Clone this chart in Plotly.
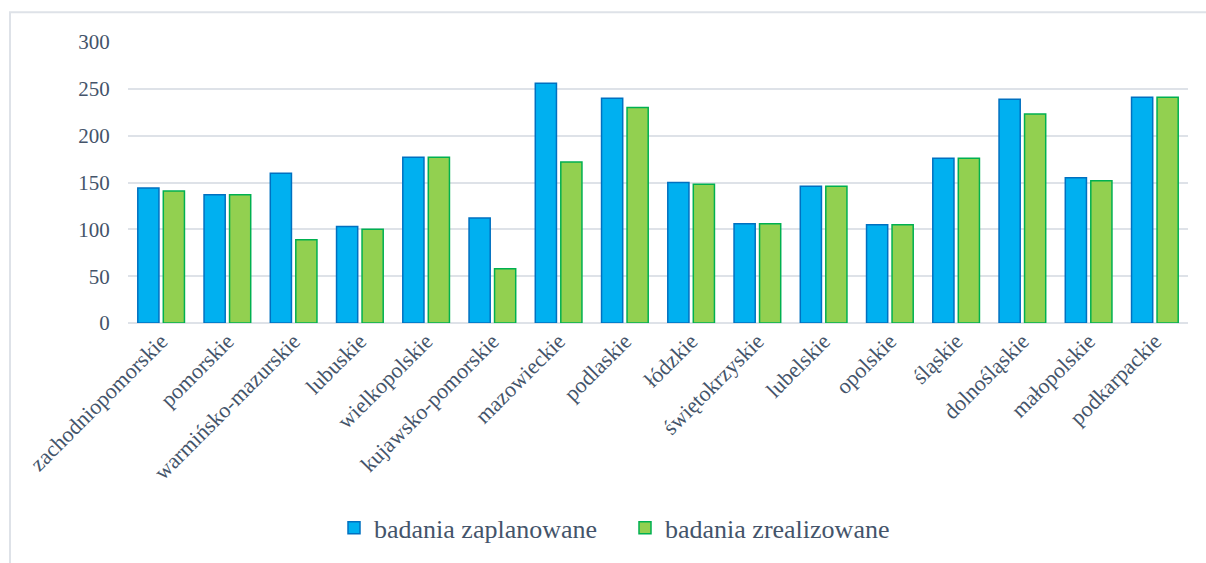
import plotly.graph_objects as go

regions = [
    "zachodniopomorskie", "pomorskie", "warmińsko-mazurskie", "lubuskie",
    "wielkopolskie", "kujawsko-pomorskie", "mazowieckie", "podlaskie",
    "łódzkie", "świętokrzyskie", "lubelskie", "opolskie", "śląskie",
    "dolnośląskie", "małopolskie", "podkarpackie",
]
planned = [144, 137, 160, 103, 177, 112, 256, 240, 150, 106, 146, 105, 176, 239, 155, 241]
completed = [141, 137, 89, 100, 177, 58, 172, 230, 148, 106, 146, 105, 176, 223, 152, 241]
y_ticks = [0, 50, 100, 150, 200, 250, 300]

TEXT = "#44546A"
GRID = "#DEE2E8"
FONT = "'Liberation Serif', 'Times New Roman', serif"

W, H = 1206, 563
L, R, T, B = 128, 18, 42, 237
pw, ph = W - L - R, H - T - B


def px_x(x):
    return (x - L) / pw


def px_y(y):
    return (H - B - y) / ph


fig = go.Figure()
fig.add_trace(go.Bar(
    x=regions, y=planned, name="badania zaplanowane",
    marker=dict(color="#00B0F0", line=dict(color="#0070C0", width=1.5)),
))
fig.add_trace(go.Bar(
    x=regions, y=completed, name="badania zrealizowane",
    marker=dict(color="#92D050", line=dict(color="#00B050", width=1.5)),
))

# outer chart frame
fig.add_shape(
    type="rect", xref="paper", yref="paper", layer="below",
    x0=px_x(10), x1=px_x(1215), y0=px_y(575), y1=px_y(12),
    line=dict(color=GRID, width=2), fillcolor="rgba(0,0,0,0)",
)

fig.update_layout(
    width=W, height=H,
    margin=dict(l=L, r=R, t=T, b=B),
    paper_bgcolor="white", plot_bgcolor="white",
    barmode="group", bargap=0.23, bargroupgap=0.17,
    font=dict(family=FONT, color=TEXT, size=21),
    showlegend=True,
    legend=dict(
        orientation="h", x=px_x(334), xanchor="left", y=px_y(533), yanchor="middle",
        font=dict(family=FONT, size=26, color=TEXT),
        entrywidth=246, entrywidthmode="pixels", itemwidth=30,
        traceorder="normal",
    ),
    xaxis=dict(
        tickangle=-45, tickfont=dict(family=FONT, size=22, color=TEXT),
        showgrid=False, showline=False, ticks="",
    ),
    yaxis=dict(
        range=[0, 300], tickvals=y_ticks, showgrid=True, gridcolor=GRID, gridwidth=2,
        zeroline=True, zerolinecolor=GRID, zerolinewidth=2,
        tickfont=dict(family=FONT, size=21, color=TEXT), ticks="outside",
        ticklen=13, tickcolor="rgba(0,0,0,0)", showline=False,
    ),
)

fig.write_html("out.html")
